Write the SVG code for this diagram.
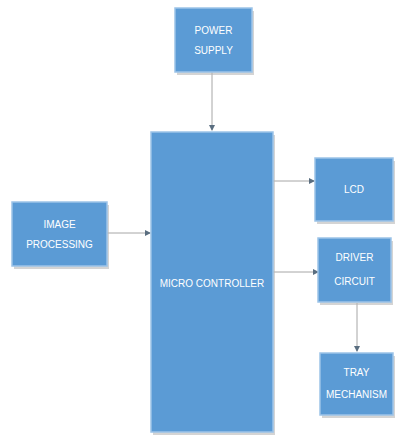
<svg xmlns="http://www.w3.org/2000/svg" width="401" height="436" viewBox="0 0 401 436">
<style>
.box{fill:#5b9bd5;stroke:#9cc3e8;stroke-width:1.5}
.sh{fill:#b8b8b8;opacity:0.6}
.t{font-family:"Liberation Sans Narrow","Liberation Sans",sans-serif;font-size:10px;fill:#ffffff;text-anchor:middle}
.c{stroke:#a6a6a6;stroke-width:1;fill:none;marker-end:url(#ah)}
</style>
<defs>
<marker id="ah" markerWidth="6" markerHeight="6" refX="5" refY="3" orient="auto" markerUnits="userSpaceOnUse">
<path d="M0,0 L6,3 L0,6 Z" fill="#5a6e80"/>
</marker>
</defs>
<rect width="401" height="436" fill="#ffffff"/>
<g id="connectors">
<line class="c" x1="212" y1="72" x2="212" y2="130"/>
<line class="c" x1="107" y1="233" x2="150" y2="233"/>
<line class="c" x1="273" y1="181" x2="314" y2="181"/>
<line class="c" x1="273" y1="272" x2="318" y2="272"/>
<line class="c" x1="357" y1="303" x2="357" y2="351"/>
</g>
<g id="power">
<rect class="sh" x="177" y="11" width="77" height="64"/>
<rect class="box" x="175" y="8" width="77" height="64"/>
<text class="t" x="213.5" y="34">POWER</text>
<text class="t" x="213.5" y="54">SUPPLY</text>
</g>
<g id="micro">
<rect class="sh" x="153" y="135" width="122" height="300"/>
<rect class="box" x="151" y="132" width="122" height="300"/>
<text class="t" x="212" y="287">MICRO CONTROLLER</text>
</g>
<g id="image">
<rect class="sh" x="14" y="205" width="95" height="64"/>
<rect class="box" x="12" y="202" width="95" height="64"/>
<text class="t" x="59.5" y="228">IMAGE</text>
<text class="t" x="59.5" y="248">PROCESSING</text>
</g>
<g id="lcd">
<rect class="sh" x="317" y="161" width="78" height="63"/>
<rect class="box" x="315" y="158" width="78" height="63"/>
<text class="t" x="354" y="193">LCD</text>
</g>
<g id="driver">
<rect class="sh" x="320" y="241" width="73" height="64"/>
<rect class="box" x="318" y="238" width="73" height="64"/>
<text class="t" x="354.5" y="261">DRIVER</text>
<text class="t" x="354.5" y="285">CIRCUIT</text>
</g>
<g id="tray">
<rect class="sh" x="322" y="356" width="73" height="62"/>
<rect class="box" x="320" y="353" width="73" height="62"/>
<text class="t" x="356.5" y="376">TRAY</text>
<text class="t" x="356.5" y="398">MECHANISM</text>
</g>
</svg>
